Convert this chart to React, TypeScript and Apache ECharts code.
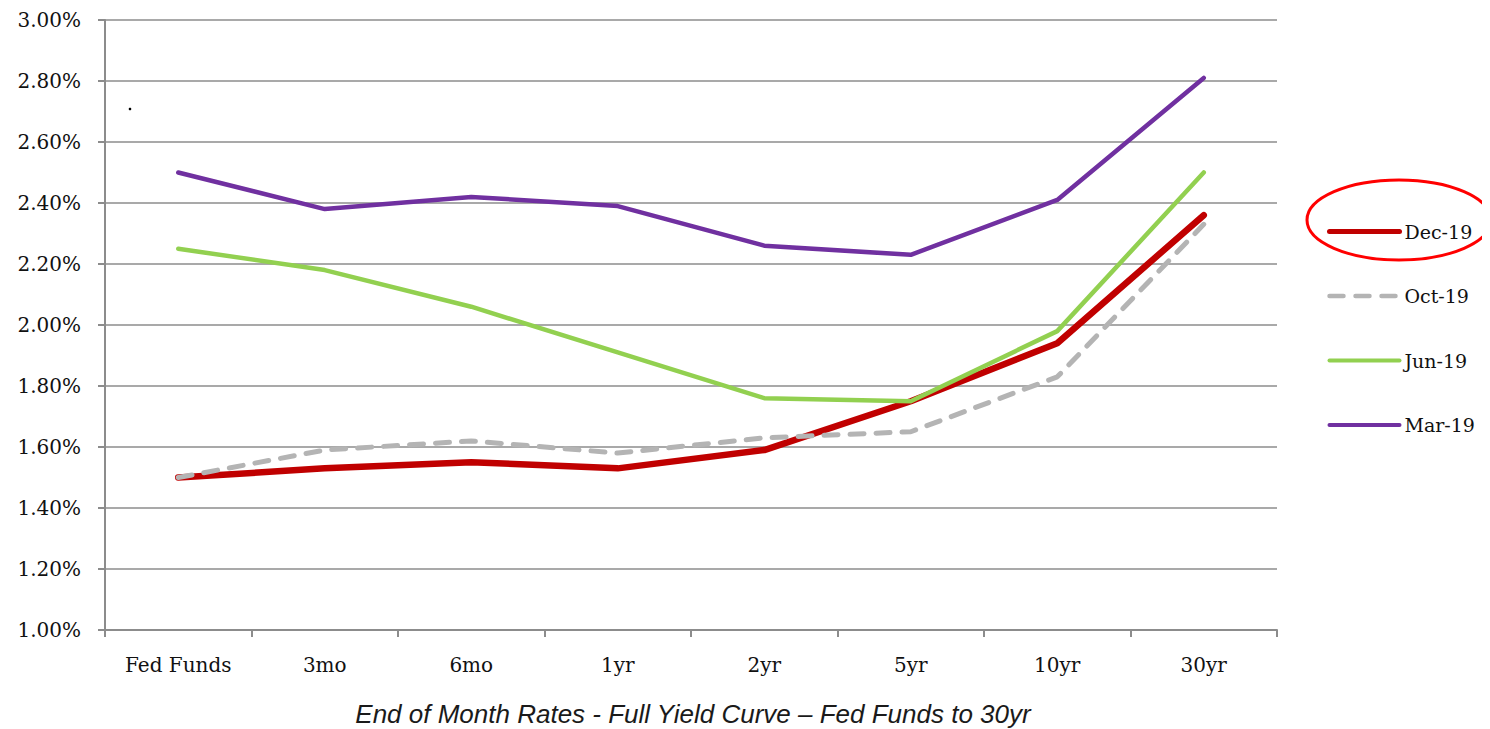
import React, { useEffect, useRef } from "react";
import * as echarts from "echarts";

const categories = ["Fed Funds", "3mo", "6mo", "1yr", "2yr", "5yr", "10yr", "30yr"];
const dec19 = [1.5, 1.53, 1.55, 1.53, 1.59, 1.75, 1.94, 2.36];
const oct19 = [1.5, 1.59, 1.62, 1.58, 1.63, 1.65, 1.83, 2.33];
const jun19 = [2.25, 2.18, 2.06, 1.91, 1.76, 1.75, 1.98, 2.5];
const mar19 = [2.5, 2.38, 2.42, 2.39, 2.26, 2.23, 2.41, 2.81];
const seriesNames = ["Dec-19", "Oct-19", "Jun-19", "Mar-19"];
const titleText = "End of Month Rates - Full Yield Curve \u2013 Fed Funds to 30yr";

const SERIF = "'DejaVu Serif', 'Liberation Serif', serif";

export default function App() {
  const ref = useRef<HTMLDivElement>(null);
  useEffect(() => {
    if (!ref.current) return;
    const chart = echarts.init(ref.current, null, { renderer: "svg" });
    const mk = (name: string, data: number[], color: string, width: number, type: any = "solid") => ({
      name,
      type: "line",
      data,
      showSymbol: false,
      symbol: "none",
      legendIcon: "none",
      lineStyle: { color, width, type, cap: "round", join: "round" },
      itemStyle: { color },
    });
    const legendWidths = [5, 4.5, 4, 4];
    chart.setOption({
      animation: false,
      backgroundColor: "#ffffff",
      grid: { left: 105, right: 213, top: 20, bottom: 99 },
      legend: {
        orient: "vertical",
        left: 1322,
        top: 217,
        itemWidth: 70,
        itemHeight: 20,
        itemGap: 45.5,
        itemStyle: { opacity: 0 },
        textStyle: { fontFamily: SERIF, fontSize: 19, color: "#111" },
        data: seriesNames.map((n, i) => ({ name: n, lineStyle: { width: legendWidths[i] } })),
      },
      xAxis: {
        type: "category",
        data: categories,
        boundaryGap: true,
        axisLine: { lineStyle: { color: "#8c8c8c", width: 2 } },
        axisTick: { show: true, length: 7, lineStyle: { color: "#8c8c8c", width: 2 } },
        axisLabel: { fontFamily: SERIF, fontSize: 20, color: "#111", margin: 25 },
        splitLine: { show: false },
      },
      yAxis: {
        type: "value",
        min: 1,
        max: 3,
        interval: 0.2,
        axisLine: { show: true, lineStyle: { color: "#8c8c8c", width: 2 } },
        axisTick: { show: true, length: 7, lineStyle: { color: "#8c8c8c", width: 2 } },
        axisLabel: {
          fontFamily: SERIF,
          fontSize: 20,
          color: "#111",
          margin: 24,
          formatter: (v: number) => v.toFixed(2) + "%",
        },
        splitLine: { show: true, lineStyle: { color: "#8c8c8c", width: 1.5 } },
      },
      series: [
        mk(seriesNames[0], dec19, "#C00000", 6.5),
        mk(seriesNames[1], oct19, "#B4B4B4", 5, [14, 12]),
        mk(seriesNames[2], jun19, "#92D050", 4.5),
        mk(seriesNames[3], mar19, "#7030A0", 4.5),
      ],
      graphic: [
        {
          type: "ellipse",
          shape: { cx: 1399, cy: 220, rx: 92, ry: 40 },
          style: { fill: "none", stroke: "#FF0000", lineWidth: 3 },
          silent: true,
        },
        {
          type: "circle",
          shape: { cx: 130, cy: 109, r: 1.3 },
          style: { fill: "#000" },
          silent: true,
        },
        {
          type: "text",
          x: 693,
          y: 714,
          style: {
            text: titleText,
            align: "center",
            verticalAlign: "middle",
            font: "italic 26px 'Liberation Sans', Arial, sans-serif",
            fill: "#1a1a1a",
          },
        },
      ],
    });
    return () => chart.dispose();
  }, []);
  return <div ref={ref} style={{ width: 1490, height: 729, marginLeft: -8, marginTop: -8 }} />;
}
